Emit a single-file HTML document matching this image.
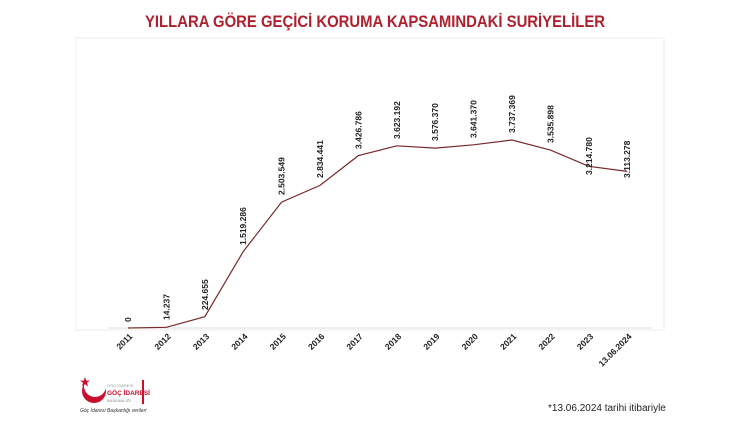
<!DOCTYPE html>
<html><head><style>
body{margin:0;background:#fff;width:750px;height:427px;overflow:hidden;font-family:"Liberation Sans",sans-serif}
</style></head><body>
<svg width="750" height="427" xmlns="http://www.w3.org/2000/svg" font-family="Liberation Sans, sans-serif">
<rect x="76" y="38" width="588" height="292" fill="none" stroke="#eee"/>
<text x="375" y="27" text-anchor="middle" font-size="17" font-weight="bold" fill="#b01f2e" textLength="460" lengthAdjust="spacingAndGlyphs">YILLARA GÖRE GEÇİCİ KORUMA KAPSAMINDAKİ SURİYELİLER</text>
<line x1="108" y1="328" x2="652" y2="328" stroke="#ddd"/>
<polyline fill="none" stroke="#7a2a2a" stroke-width="1.2" points="128,328 166.4,327.3 204.8,316.7 243.2,251.6 281.6,202.1 320,185.4 358.4,155.6 396.8,145.8 435.2,148.1 473.6,144.8 512,140 550.4,150.1 588.8,166.3 627.2,171.4"/>
<g font-size="8.5" font-weight="bold" fill="#222">
<text transform="translate(131,322) rotate(-90)">0</text>
<text transform="translate(169.4,320) rotate(-90)">14.237</text>
<text transform="translate(207.8,310) rotate(-90)">224.655</text>
<text transform="translate(246.2,245) rotate(-90)">1.519.286</text>
<text transform="translate(284.6,195) rotate(-90)">2.503.549</text>
<text transform="translate(323,178) rotate(-90)">2.834.441</text>
<text transform="translate(361.4,149) rotate(-90)">3.426.786</text>
<text transform="translate(399.8,139) rotate(-90)">3.623.192</text>
<text transform="translate(438.2,141) rotate(-90)">3.576.370</text>
<text transform="translate(476.6,138) rotate(-90)">3.641.370</text>
<text transform="translate(515,133) rotate(-90)">3.737.369</text>
<text transform="translate(553.4,143) rotate(-90)">3.535.898</text>
<text transform="translate(591.8,175) rotate(-90)">3.214.780</text>
<text transform="translate(630.2,178) rotate(-90)">3.113.278</text>
</g>
<g font-size="8.5" font-weight="bold" fill="#222" text-anchor="end">
<text transform="translate(133,337) rotate(-45)">2011</text>
<text transform="translate(171.4,337) rotate(-45)">2012</text>
<text transform="translate(209.8,337) rotate(-45)">2013</text>
<text transform="translate(248.2,337) rotate(-45)">2014</text>
<text transform="translate(286.6,337) rotate(-45)">2015</text>
<text transform="translate(325,337) rotate(-45)">2016</text>
<text transform="translate(363.4,337) rotate(-45)">2017</text>
<text transform="translate(401.8,337) rotate(-45)">2018</text>
<text transform="translate(440.2,337) rotate(-45)">2019</text>
<text transform="translate(478.6,337) rotate(-45)">2020</text>
<text transform="translate(517,337) rotate(-45)">2021</text>
<text transform="translate(555.4,337) rotate(-45)">2022</text>
<text transform="translate(593.8,337) rotate(-45)">2023</text>
<text transform="translate(632.2,337) rotate(-45)">13.06.2024</text>
</g>
<!-- logo -->
<circle cx="94" cy="391" r="12" fill="#c8102e"/>
<circle cx="95" cy="386" r="11" fill="#fff"/>
<polygon points="85,377 86.3,380.6 90,380.6 87,382.8 88.1,386.4 85,384.2 81.9,386.4 83,382.8 80,380.6 83.7,380.6" fill="#c8102e"/>
<text x="107" y="387" font-size="4" fill="#999">GÖÇ İDARESİ</text>
<text x="107" y="395" font-size="6.5" font-weight="bold" fill="#c8102e">GÖÇ İDARESİ</text>
<text x="107" y="402" font-size="4" fill="#888">BAŞKANLIĞI</text>
<rect x="142" y="380" width="2" height="24" fill="#c8102e"/>
<text x="80" y="412" font-size="5" font-style="italic" fill="#333">Göç İdaresi Başkanlığı verileri</text>
<text x="548" y="411" font-size="10" fill="#222">*13.06.2024 tarihi itibariyle</text>
</svg>
</body></html>
